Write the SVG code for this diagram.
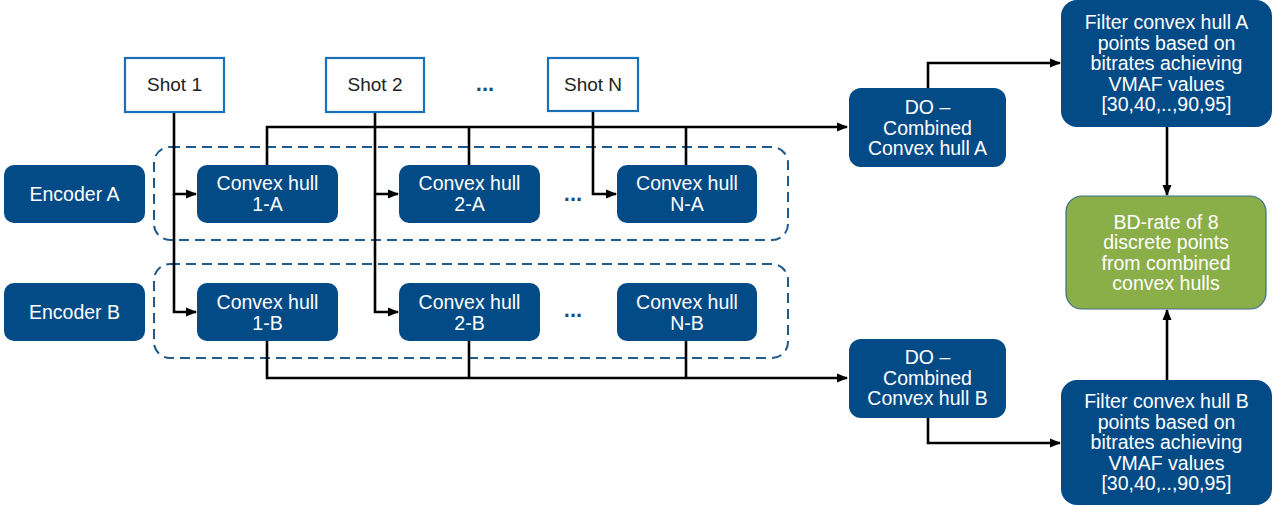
<svg xmlns="http://www.w3.org/2000/svg" width="1273" height="507" viewBox="0 0 1273 507">
<defs>
<marker id="arr" markerWidth="11" markerHeight="11" refX="10" refY="5.5" orient="auto" markerUnits="userSpaceOnUse">
<path d="M0,1 L11,5.5 L0,10 z" fill="#000"/>
</marker>
<style>
.node{fill:#034b87;}
.shot{fill:#fff;stroke:#1b6fb8;stroke-width:2.2;}
.green{fill:#8aae48;stroke:#3a6e8c;stroke-width:1.2;}
.grp{fill:none;stroke:#1f5a8c;stroke-width:2;stroke-dasharray:10,6;}
.t{font-family:"Liberation Sans",Arial,sans-serif;font-size:19.5px;fill:#fff;text-anchor:middle;}
.ts{font-family:"Liberation Sans",Arial,sans-serif;font-size:19px;fill:#222;text-anchor:middle;}
.dots{font-family:"Liberation Sans",Arial,sans-serif;font-size:22px;font-weight:bold;fill:#1f4e79;text-anchor:middle;}
.c{fill:none;stroke:#000;stroke-width:2.6;}
</style>
</defs>

<g id="group-a"><rect class="grp" x="154" y="147" width="634" height="93" rx="16"/></g>
<g id="group-b"><rect class="grp" x="154" y="264" width="634" height="94" rx="16"/></g>

<g id="connectors">
<polyline class="c" points="174,112 174,194 196,194" marker-end="url(#arr)"/>
<polyline class="c" points="174,194 174,312 196,312" marker-end="url(#arr)"/>
<polyline class="c" points="375,112 375,194 398,194" marker-end="url(#arr)"/>
<polyline class="c" points="375,194 375,312 398,312" marker-end="url(#arr)"/>
<polyline class="c" points="593,111 593,194 616,194" marker-end="url(#arr)"/>
<polyline class="c" points="267,165 267,127 847,127" marker-end="url(#arr)"/>
<line class="c" x1="469" y1="165" x2="469" y2="127"/>
<line class="c" x1="686" y1="165" x2="686" y2="127"/>
<polyline class="c" points="267,341 267,378 847,378" marker-end="url(#arr)"/>
<line class="c" x1="469" y1="341" x2="469" y2="378"/>
<line class="c" x1="686" y1="341" x2="686" y2="378"/>
<polyline class="c" points="928,88 928,63 1060,63" marker-end="url(#arr)"/>
<polyline class="c" points="928,418 928,443 1060,443" marker-end="url(#arr)"/>
<line class="c" x1="1167" y1="127" x2="1167" y2="195" marker-end="url(#arr)"/>
<line class="c" x1="1167" y1="380" x2="1167" y2="310" marker-end="url(#arr)"/>
</g>

<g id="shot1"><rect class="shot" x="125" y="58" width="99" height="54"/><text class="ts" x="174.5" y="91">Shot 1</text></g>
<g id="shot2"><rect class="shot" x="326" y="58" width="98" height="54"/><text class="ts" x="375" y="91">Shot 2</text></g>
<g id="dots-shots"><text class="dots" x="485" y="91">...</text></g>
<g id="shotN"><rect class="shot" x="548" y="58" width="90" height="53"/><text class="ts" x="593" y="91">Shot N</text></g>

<g id="encA"><rect class="node" x="4" y="165" width="141" height="58" rx="10"/><text class="t" x="74.5" y="201">Encoder A</text></g>
<g id="encB"><rect class="node" x="4" y="283" width="141" height="58" rx="10"/><text class="t" x="74.5" y="319">Encoder B</text></g>

<g id="ch1A"><rect class="node" x="197" y="165" width="141" height="58" rx="10"/><text class="t" x="267.5" y="190">Convex hull</text><text class="t" x="267.5" y="211">1-A</text></g>
<g id="ch2A"><rect class="node" x="399" y="165" width="141" height="58" rx="10"/><text class="t" x="469.5" y="190">Convex hull</text><text class="t" x="469.5" y="211">2-A</text></g>
<g id="dotsA"><text class="dots" x="573" y="201">...</text></g>
<g id="chNA"><rect class="node" x="617" y="165" width="140" height="58" rx="10"/><text class="t" x="687" y="190">Convex hull</text><text class="t" x="687" y="211">N-A</text></g>

<g id="ch1B"><rect class="node" x="197" y="283" width="141" height="58" rx="10"/><text class="t" x="267.5" y="309">Convex hull</text><text class="t" x="267.5" y="330">1-B</text></g>
<g id="ch2B"><rect class="node" x="399" y="283" width="141" height="58" rx="10"/><text class="t" x="469.5" y="309">Convex hull</text><text class="t" x="469.5" y="330">2-B</text></g>
<g id="dotsB"><text class="dots" x="573" y="317">...</text></g>
<g id="chNB"><rect class="node" x="617" y="283" width="140" height="58" rx="10"/><text class="t" x="687" y="309">Convex hull</text><text class="t" x="687" y="330">N-B</text></g>

<g id="doA"><rect class="node" x="849" y="88" width="157" height="79" rx="12"/><text class="t" x="927.5" y="114">DO –</text><text class="t" x="927.5" y="135">Combined</text><text class="t" x="927.5" y="155">Convex hull A</text></g>
<g id="doB"><rect class="node" x="849" y="339" width="157" height="79" rx="12"/><text class="t" x="927.5" y="364">DO –</text><text class="t" x="927.5" y="385">Combined</text><text class="t" x="927.5" y="405">Convex hull B</text></g>

<g id="filterA"><rect class="node" x="1061" y="0" width="211" height="127" rx="16"/>
<text class="t" x="1166.5" y="29">Filter convex hull A</text><text class="t" x="1166.5" y="50">points based on</text><text class="t" x="1166.5" y="70">bitrates achieving</text><text class="t" x="1166.5" y="91">VMAF values</text><text class="t" x="1166.5" y="111">[30,40,..,90,95]</text></g>

<g id="bdrate"><rect class="green" x="1066" y="196" width="200" height="113" rx="16"/>
<text class="t" x="1166" y="229">BD-rate of 8</text><text class="t" x="1166" y="249">discrete points</text><text class="t" x="1166" y="270">from combined</text><text class="t" x="1166" y="290">convex hulls</text></g>

<g id="filterB"><rect class="node" x="1061" y="380" width="211" height="125" rx="16"/>
<text class="t" x="1166.5" y="408">Filter convex hull B</text><text class="t" x="1166.5" y="429">points based on</text><text class="t" x="1166.5" y="449">bitrates achieving</text><text class="t" x="1166.5" y="470">VMAF values</text><text class="t" x="1166.5" y="490">[30,40,..,90,95]</text></g>
</svg>
